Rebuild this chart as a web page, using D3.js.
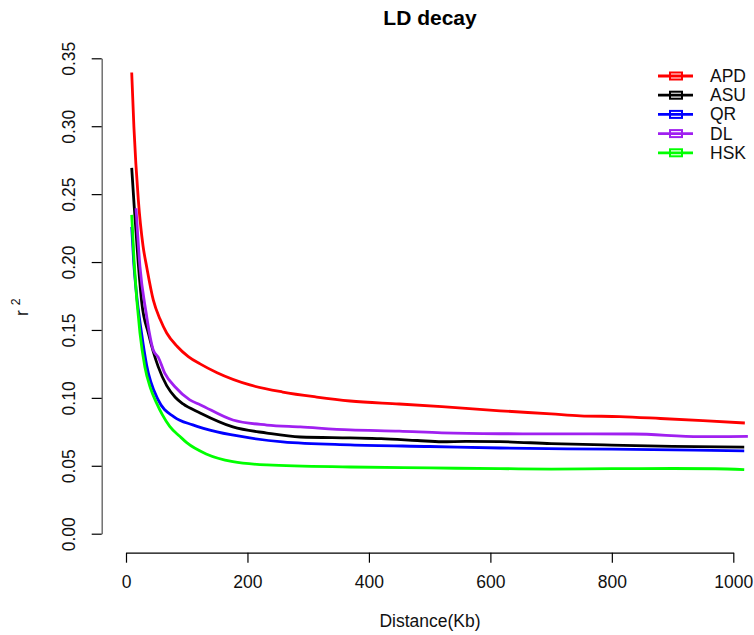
<!DOCTYPE html>
<html lang="en">
<head>
    <meta charset="UTF-8">
    <title>LD decay</title>
    <script src="https://cdnjs.cloudflare.com/ajax/libs/d3/7.8.2/d3.min.js"></script>
    <style>
        body{
            margin: 0;
            background-color: white;
        }
        svg{
            display: block;
            font-family: "Liberation Sans", Arial, sans-serif;
        }
    </style>
</head>
<body>
    <div class="container"></div>
    <script>
        // data (distance in Kb, mean r^2)
        let apdDist = [9.4, 13, 20.3, 28, 34, 45, 56, 67, 84, 102.6, 122, 150, 204, 258, 314, 369, 450, 520, 616, 700, 748, 813, 880, 950, 1019];
        let apdR2   = [0.3395, 0.2995, 0.2457, 0.212, 0.1966, 0.172, 0.158, 0.1478, 0.138, 0.1304, 0.125, 0.1185, 0.1095, 0.1043, 0.1006, 0.0977, 0.0955, 0.0935, 0.0905, 0.0882, 0.0868, 0.0862, 0.0848, 0.0832, 0.0815];

        let asuDist = [9.4, 13.5, 20.3, 26, 36.8, 53, 67, 81, 94, 122, 176, 232, 287, 369, 420, 480, 520, 560, 616, 700, 800, 900, 1018];
        let asuR2   = [0.2693, 0.241, 0.1985, 0.170, 0.1476, 0.123, 0.109, 0.1005, 0.0955, 0.0889, 0.0786, 0.0741, 0.0712, 0.0705, 0.0700, 0.0686, 0.0677, 0.0680, 0.0678, 0.0663, 0.0652, 0.0643, 0.0637];

        let qrDist = [9.4, 12.7, 16.5, 25.8, 34, 53, 79, 110, 150, 204, 258, 369, 500, 616, 800, 1018];
        let qrR2   = [0.2258, 0.200, 0.180, 0.147, 0.124, 0.0985, 0.086, 0.0801, 0.0749, 0.0705, 0.0676, 0.0654, 0.0642, 0.0631, 0.0622, 0.0610];

        let dlDist = [16.5, 23, 33, 38, 45, 53, 64, 81, 105, 122, 176, 232, 287, 369, 450, 520, 616, 700, 835, 945, 1024];
        let dlR2   = [0.2396, 0.1966, 0.163, 0.149, 0.135, 0.130, 0.118, 0.108, 0.0985, 0.095, 0.0837, 0.0800, 0.0786, 0.0764, 0.0755, 0.0742, 0.0736, 0.0735, 0.0734, 0.0714, 0.0716];

        let hskDist = [9.4, 13.5, 23, 31, 40, 50, 60, 72, 89, 100, 133, 176, 232, 369, 500, 616, 700, 800, 900, 970, 1018];
        let hskR2   = [0.2347, 0.199, 0.1476, 0.123, 0.1075, 0.0965, 0.0875, 0.079, 0.0715, 0.067, 0.0585, 0.053, 0.0506, 0.0491, 0.0484, 0.0479, 0.0476, 0.0479, 0.0480, 0.0478, 0.0471];

        let seriesNames  = ['APD', 'ASU', 'QR', 'DL', 'HSK'];
        let seriesColors = ['#ff0000', '#000000', '#0000ff', '#a020f0', '#00ff00'];
        let seriesDist   = [apdDist, asuDist, qrDist, dlDist, hskDist];
        let seriesR2     = [apdR2, asuR2, qrR2, dlR2, hskR2];

        let xTicks = [0, 200, 400, 600, 800, 1000];
        let yTicks = [0, 0.05, 0.10, 0.15, 0.20, 0.25, 0.30, 0.35];

        let width = 754;
        let height = 635;

        let svg = d3.select('.container').append('svg')
                    .attr('width', width)
                    .attr('height', height)

        let xScale = d3.scaleLinear()
                       .domain([0, 1000])
                       .range([126, 733.3])

        let yScale = d3.scaleLinear()
                       .domain([0, 0.35])
                       .range([533.7, 58.3])

        const drawAxes = () => {
            let xAxis = d3.axisBottom(xScale)
                          .tickValues(xTicks)
                          .tickSize(10)
                          .tickPadding(13)
                          .tickSizeOuter(0)
                          .tickFormat(d3.format('d'))
            let gx = svg.append('g')
                        .attr('id', 'x-axis')
                        .attr('transform', 'translate(0,552.7)')
                        .call(xAxis)
            gx.select('.domain').attr('stroke', '#000').attr('stroke-width', 1.2)
            gx.selectAll('line').attr('stroke', '#000').attr('stroke-width', 1.2)
            gx.selectAll('text').attr('font-size', 17.5).attr('fill', '#111').attr('font-family', null)

            let yAxis = d3.axisLeft(yScale)
                          .tickValues(yTicks)
                          .tickSize(10)
                          .tickSizeOuter(0)
                          .tickFormat(d3.format('.2f'))
            let gy = svg.append('g')
                        .attr('id', 'y-axis')
                        .attr('transform', 'translate(101.7,0)')
                        .call(yAxis)
            gy.select('.domain').attr('stroke', '#666').attr('stroke-width', 1.4)
            gy.selectAll('line').attr('stroke', '#000').attr('stroke-width', 1.2)
            gy.selectAll('text')
              .attr('font-size', 17.5)
              .attr('fill', '#111')
              .attr('font-family', null)
              .attr('x', 0)
              .attr('dy', 0)
              .attr('text-anchor', 'middle')
              .attr('transform', 'translate(-26.5,0) rotate(-90)')
        }

        const drawLines = () => {
            let line = d3.line()
                         .x(d => xScale(d[0]))
                         .y(d => yScale(d[1]))
                         .curve(d3.curveMonotoneX)

            seriesNames.forEach((name, i) => {
                let pts = seriesDist[i].map((d, j) => [d, seriesR2[i][j]])
                svg.append('path')
                   .datum(pts)
                   .attr('class', 'ld-line')
                   .attr('fill', 'none')
                   .attr('stroke', seriesColors[i])
                   .attr('stroke-width', 2.8)
                   .attr('stroke-linejoin', 'round')
                   .attr('d', line)
            })
        }

        const drawLegend = () => {
            let legend = svg.append('g').attr('id', 'legend')
            seriesNames.forEach((name, i) => {
                let y = 76 + i * 19.2
                legend.append('line')
                      .attr('x1', 658).attr('x2', 693)
                      .attr('y1', y).attr('y2', y)
                      .attr('stroke', seriesColors[i])
                      .attr('stroke-width', 2.8)
                legend.append('rect')
                      .attr('x', 670).attr('y', y - 3.5)
                      .attr('width', 12).attr('height', 7)
                      .attr('fill', 'none')
                      .attr('stroke', seriesColors[i])
                      .attr('stroke-width', 2)
                legend.append('text')
                      .attr('x', 710).attr('y', y + 6)
                      .attr('font-size', 17.5)
                      .attr('fill', '#111')
                      .text(name)
            })
        }

        const drawTitles = () => {
            svg.append('text')
               .attr('id', 'title')
               .attr('x', 430).attr('y', 25)
               .attr('text-anchor', 'middle')
               .attr('font-size', 21)
               .attr('font-weight', 'bold')
               .text('LD decay')

            svg.append('text')
               .attr('x', 430).attr('y', 627)
               .attr('text-anchor', 'middle')
               .attr('font-size', 17.5)
               .attr('fill', '#111')
               .text('Distance(Kb)')

            let ylab = svg.append('text')
                          .attr('transform', 'translate(28.3,316) rotate(-90)')
                          .attr('font-size', 17.5)
                          .attr('fill', '#111')
            ylab.append('tspan').text('r')
            ylab.append('tspan')
                .attr('dx', 5).attr('dy', -8.3)
                .attr('font-size', 12.3)
                .text('2')
        }

        drawAxes();
        drawLines();
        drawLegend();
        drawTitles();
    </script>
</body>
</html>
